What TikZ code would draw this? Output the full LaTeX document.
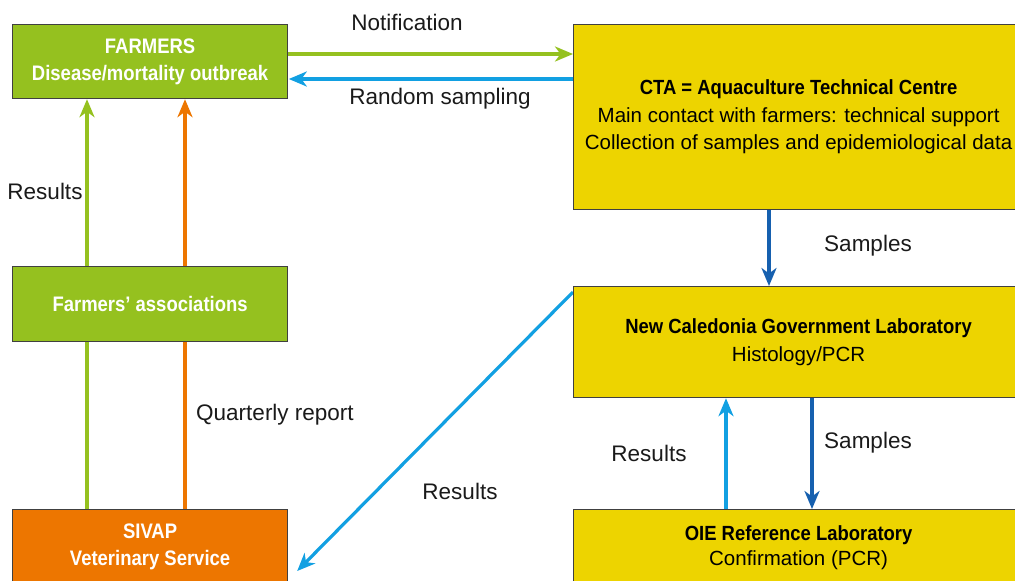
\documentclass[tikz,border=0pt]{standalone}
\usepackage{fontspec}
\setmainfont{Liberation Sans}
\newfontfamily\condfont[FakeStretch=0.88]{Liberation Sans}
\newfontfamily\condfontb[FakeStretch=0.9]{Liberation Sans}
\usetikzlibrary{arrows.meta,calc,backgrounds}
\definecolor{cgreen}{RGB}{149,193,31}
\definecolor{corange}{RGB}{237,118,0}
\definecolor{cyellow}{RGB}{237,212,0}
\definecolor{clblue}{RGB}{18,160,226}
\definecolor{cdblue}{RGB}{22,96,175}
\definecolor{cborder}{RGB}{64,64,64}
\definecolor{ctext}{RGB}{26,26,26}
\tikzset{
  box/.style={draw=cborder, line width=1.2pt, anchor=north west, inner sep=0pt, align=center},
  greenbox/.style={box, fill=cgreen, text=white, font=\condfont\bfseries\fontsize{21}{26.5}\selectfont},
  orangebox/.style={box, fill=corange, text=white, font=\condfont\bfseries\fontsize{21}{27}\selectfont},
  yellowbox/.style={box, fill=cyellow, text=black, font=\fontsize{20.5}{27.5}\selectfont},
  lbl/.style={text=ctext, font=\fontsize{22.5}{27}\selectfont, inner sep=0pt},
  tip/.style={-{Stealth[length=18pt,width=15pt,inset=5.5pt]}},
  conn/.style={line width=3.2pt},
}
\begin{document}
\begin{tikzpicture}[x=1pt,y=-1pt]
\path[use as bounding box, clip] (0,0) rectangle (1015,581);
% boxes
\node[greenbox, minimum width=275pt, minimum height=74pt] (farmers) at (12,24)
  {FARMERS\\Disease/mortality outbreak};
\node[greenbox, minimum width=275pt, minimum height=75pt] (assoc) at (12,266)
  {Farmers’ associations};
\node[orangebox, minimum width=275pt, minimum height=75pt] (sivap) at (12,509)
  {SIVAP\\Veterinary Service};
\node[yellowbox, minimum width=450pt, minimum height=185pt] (cta) at (573,24)
  {{\condfontb\bfseries CTA = Aquaculture Technical Centre}\\Main contact with farmers: technical support\\Collection of samples and epidemiological data};
\node[yellowbox, minimum width=450pt, minimum height=111pt] (ncgl) at (573,286)
  {{\condfontb\bfseries New Caledonia Government Laboratory}\\Histology/PCR};
\node[yellowbox, minimum width=450pt, minimum height=76pt, font=\fontsize{20.5}{24.5}\selectfont] (oie) at (573,509)
  {{\condfontb\bfseries OIE Reference Laboratory}\\Confirmation (PCR)};
% helper coordinates
\coordinate (yN) at (0,54);
\coordinate (yR) at (0,79);
\coordinate (xg) at (87,0);
\coordinate (xo) at (185,0);
\coordinate (xs1) at (769,0);
\coordinate (xr) at (726,0);
\coordinate (xs2) at (812,0);
\begin{scope}[on background layer]
% top horizontal connectors
\draw[conn, cgreen, tip] (farmers.east |- yN) -- (cta.west |- yN);
\draw[conn, clblue, tip] (cta.west |- yR) -- ([xshift=0.6pt]farmers.east |- yR);
% left vertical connectors
\draw[conn, cgreen] (sivap.north -| xg) -- (assoc.south -| xg);
\draw[conn, cgreen, tip] (assoc.north -| xg) -- (farmers.south -| xg);
\draw[conn, corange] (sivap.north -| xo) -- (assoc.south -| xo);
\draw[conn, corange, tip] (assoc.north -| xo) -- (farmers.south -| xo);
% right vertical connectors
\draw[conn, cdblue, tip] (cta.south -| xs1) -- (ncgl.north -| xs1);
\draw[conn, clblue, tip] (oie.north -| xr) -- (ncgl.south -| xr);
\draw[conn, cdblue, tip] (ncgl.south -| xs2) -- (oie.north -| xs2);
% diagonal
\draw[conn, clblue, tip] ($(ncgl.north west)+(0,6)$) -- ($(sivap.north east)+(9,62)$);
\end{scope}
% labels
\node[lbl] (lnot) at (407,22) {Notification};
\node[lbl] (lrand) at (440,99) {Random sampling};
\node[lbl] (lres1) at (45,191) {Results};
\node[lbl] (lqr) at (275,415) {Quarterly report};
\node[lbl] (lsam1) at (868,246) {Samples};
\node[lbl] (lres2) at (649,453) {Results};
\node[lbl] (lsam2) at (868,443) {Samples};
\node[lbl] (lres3) at (460,491) {Results};
\end{tikzpicture}
\end{document}
